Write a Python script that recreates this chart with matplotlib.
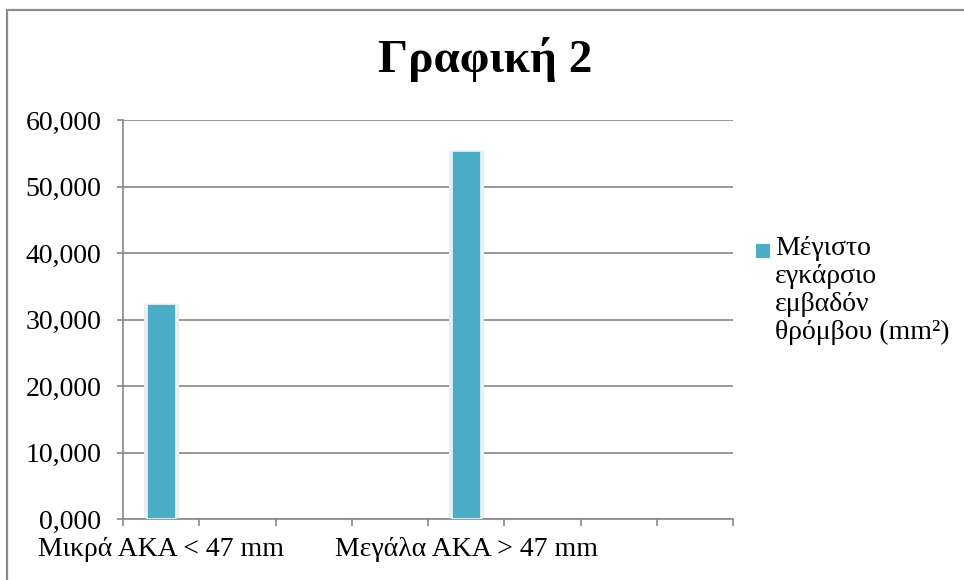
import numpy as np
import matplotlib
matplotlib.use("Agg")
import matplotlib.pyplot as plt
from matplotlib.patches import Rectangle
from matplotlib.ticker import FuncFormatter

plt.rcParams["font.family"] = ["Liberation Serif", "DejaVu Serif"]

# Excel-style category axis: eight slots, only two filled
categories = ["Μικρά ΑΚΑ < 47 mm", "", "", "", "Μεγάλα ΑΚΑ > 47 mm", "", "", ""]
values = [32.3, np.nan, np.nan, np.nan, 55.3, np.nan, np.nan, np.nan]
series_name = "Μέγιστο\nεγκάρσιο\nεμβαδόν\nθρόμβου (mm²)"
title = "Γραφική 2"

BAR = "#4BACC6"
GRID = "#888888"

W, H = 964, 580
fig = plt.figure(figsize=(W / 100, H / 100), dpi=100)

# outer chart frame (only top/left visible in the crop)
fig.add_artist(Rectangle((7 / W, -0.1), 1.2, 1 - 10 / H + 0.1,
                         transform=fig.transFigure, fill=False,
                         edgecolor="#8c8c8c", linewidth=1.6))

ax = fig.add_axes([123 / W, 61 / H, 610 / W, 399 / H])

x = np.arange(len(categories)) + 0.5
# soft shadow behind bars, then the bars themselves
ax.bar(x, values, width=0.46, color="#ececec", zorder=2)
ax.bar(x, values, width=0.38, color=BAR, edgecolor="#eaf6f9",
       linewidth=1.2, zorder=3)

ax.set_xlim(0, len(categories))
ax.set_ylim(0, 60)
ax.set_yticks(np.arange(0, 61, 10))
ax.yaxis.set_major_formatter(FuncFormatter(lambda v, p: f"{v:.3f}".replace(".", ",")))
ax.yaxis.grid(True, color=GRID, linewidth=1.2, zorder=0)
ax.set_axisbelow(True)

ax.set_xticks(np.arange(len(categories) + 1))
ax.set_xticklabels([])
ax.set_xticks(x, minor=True)
ax.set_xticklabels(categories, minor=True)

for s in ["top", "right"]:
    ax.spines[s].set_visible(False)
for s in ["left", "bottom"]:
    ax.spines[s].set_color(GRID)
    ax.spines[s].set_linewidth(1.2)

ax.tick_params(axis="y", length=4.5, width=1.2, color=GRID, pad=11, labelsize=20)
ax.tick_params(axis="x", which="major", length=5, width=1.2, color=GRID)
ax.tick_params(axis="x", which="minor", length=0, pad=13, labelsize=20)

fig.text(0.503, 1 - 60 / H, title, ha="center", va="center",
         fontsize=34, fontweight="bold")

# legend
fig.add_artist(Rectangle((755 / W, 1 - 258 / H), 15 / W, 15 / H,
                         transform=fig.transFigure, facecolor=BAR,
                         edgecolor="#eaf6f9", linewidth=0.8))
fig.text(775 / W, 1 - 236 / H, series_name, ha="left", va="top",
         fontsize=20, linespacing=1.15)

fig.savefig("out.png", dpi=100)
